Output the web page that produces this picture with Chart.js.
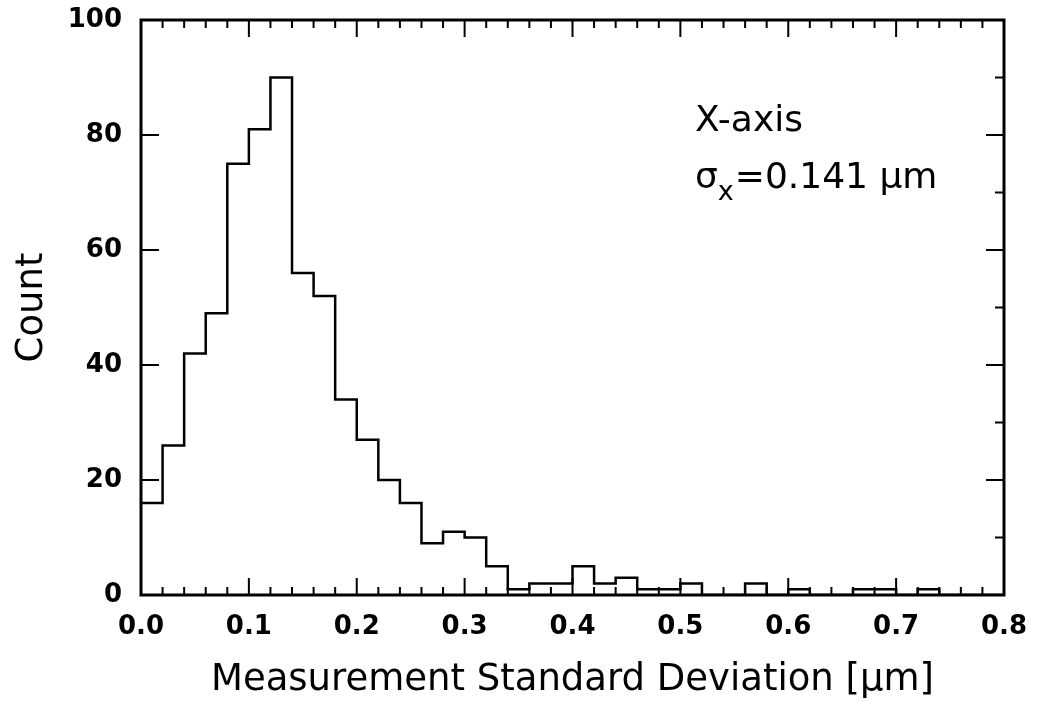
<!DOCTYPE html>
<html>
<head>
<meta charset="utf-8">
<script src="https://cdn.jsdelivr.net/npm/chart.js@4/dist/chart.umd.min.js"></script>
<style>
  html, body { margin: 0; padding: 0; background: #fff; }
  #wrap { width: 1041px; height: 707px; }
</style>
</head>
<body>
<div id="wrap"><canvas id="histChart" width="1041" height="707"></canvas></div>
<script>
(function() {

  'use strict';

  // histogram bins, 0.02 um wide, starting at 0
  var binWidth = 0.02;
  var counts = [16, 26, 42, 49, 75, 81, 90, 56, 52, 34,
                27, 20, 16, 9, 11, 10, 5, 1, 2, 2,
                5, 2, 3, 1, 1, 2, 0, 0, 2, 0,
                1, 0, 0, 1, 1, 0, 1, 0, 0, 0];
  var xTicks = [0, 0.1, 0.2, 0.3, 0.4, 0.5, 0.6, 0.7, 0.8];
  var yTicks = [0, 20, 40, 60, 80, 100];
  var yMinor = [10, 30, 50, 70, 90];

  var points = counts.map(function(c, i) {
    return { x: i * binWidth, y: c };
  });
  points.push({ x: counts.length * binWidth, y: counts[counts.length - 1] });

  var fontName = '"DejaVu Sans", "Liberation Sans", Arial, sans-serif';

  var framePlugin = {
    id: 'frame',
    afterDraw: function(chart) {
      var ctx = chart.ctx;
      var a = chart.chartArea;
      var xs = chart.scales.x, ys = chart.scales.y;
      ctx.save();
      ctx.strokeStyle = '#000';
      ctx.lineWidth = 3;
      ctx.strokeRect(a.left, a.top, a.right - a.left, a.bottom - a.top);

      ctx.lineWidth = 2;
      ctx.beginPath();
      // x ticks on bottom and top, long every 0.1
      for (var i = 0; i <= counts.length; i++) {
        var px = xs.getPixelForValue(i * binWidth);
        var len = (i % 5 === 0) ? 17 : 8;
        ctx.moveTo(px, a.bottom); ctx.lineTo(px, a.bottom - len);
        ctx.moveTo(px, a.top); ctx.lineTo(px, a.top + len);
      }
      yTicks.forEach(function(v) {
        var py = ys.getPixelForValue(v);
        ctx.moveTo(a.left, py); ctx.lineTo(a.left + 18, py);
        ctx.moveTo(a.right, py); ctx.lineTo(a.right - 18, py);
      });
      yMinor.forEach(function(v) {
        var py = ys.getPixelForValue(v);
        ctx.moveTo(a.right, py); ctx.lineTo(a.right - 9, py);
      });
      ctx.stroke();

      // annotation
      ctx.fillStyle = '#000';
      ctx.textBaseline = 'alphabetic';
      ctx.textAlign = 'left';
      ctx.font = '36px ' + fontName;
      var tx = a.left + 554;
      ctx.fillText('X-axis', tx, 131);
      ctx.fillText('\u03c3', tx, 188);
      var sw = ctx.measureText('\u03c3').width;
      ctx.font = '27px ' + fontName;
      ctx.fillText('x', tx + sw, 200);
      var xw = ctx.measureText('x').width;
      ctx.font = '36px ' + fontName;
      ctx.fillText('=0.141 \u03bcm', tx + sw + xw + 1, 188);
      ctx.restore();
    }
  };

  var ctx = document.getElementById('histChart').getContext('2d');

  new Chart(ctx, {
    type: 'line',
    data: {
      datasets: [{
        data: points,
        stepped: true,
        borderColor: '#000',
        borderWidth: 2.5,
        pointRadius: 0,
        fill: false
      }]
    },
    options: {
      responsive: false,
      animation: false,
      layout: { padding: { top: 20, right: 37, left: 0, bottom: 0 } },
      plugins: { legend: { display: false }, tooltip: { enabled: false } },
      scales: {
        x: {
          type: 'linear',
          min: 0,
          max: 0.8,
          afterBuildTicks: function(scale) {
            scale.ticks = xTicks.map(function(v) { return { value: v }; });
          },
          afterFit: function(scale) {
            scale.height = 112;
            scale.paddingLeft = 0;
            scale.paddingRight = 0;
          },
          grid: { display: false, drawTicks: false },
          border: { display: false },
          ticks: {
            padding: 17,
            color: '#000',
            font: { family: fontName, size: 26, weight: 'bold' },
            callback: function(v) { return v.toFixed(1); }
          },
          title: {
            display: true,
            text: 'Measurement Standard Deviation [\u03bcm]',
            color: '#000',
            font: { family: fontName, size: 37 },
            padding: { top: 0, bottom: 4 }
          }
        },
        y: {
          min: 0,
          max: 100,
          afterBuildTicks: function(scale) {
            scale.ticks = yTicks.map(function(v) { return { value: v }; });
          },
          afterFit: function(scale) {
            scale.width = 141;
            scale.paddingTop = 0;
            scale.paddingBottom = 0;
          },
          grid: { display: false, drawTicks: false },
          border: { display: false },
          ticks: {
            padding: 19,
            color: '#000',
            font: { family: fontName, size: 26, weight: 'bold' }
          },
          title: {
            display: true,
            text: 'Count',
            color: '#000',
            font: { family: fontName, size: 37 },
            padding: { top: 10, bottom: 0 }
          }
        }
      }
    },
    plugins: [framePlugin]
  });

})();
</script>
</body>
</html>
